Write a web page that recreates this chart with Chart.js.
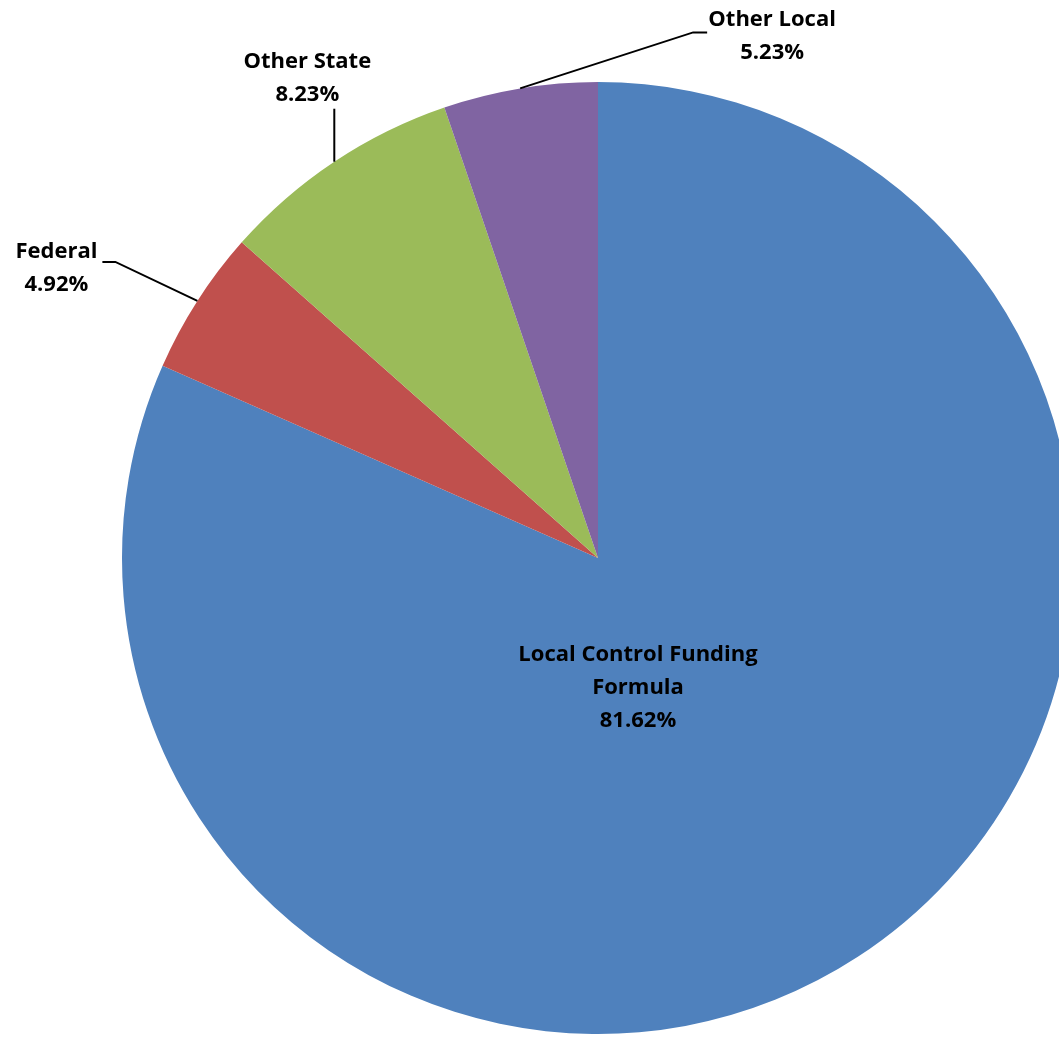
<!DOCTYPE html>
<html>
<head>
<meta charset="utf-8">
<script src="https://cdn.jsdelivr.net/npm/chart.js@4"></script>
<style>
  html, body { margin: 0; padding: 0; background: #ffffff; overflow: hidden; width: 1059px; height: 1037px; }
  #wrap { position: absolute; left: 0; top: 0; }
</style>
</head>
<body>
<div id="wrap"><canvas id="c" width="1100" height="1037"></canvas></div>
<script>
const categories = ["Local Control Funding Formula", "Federal", "Other State", "Other Local"];
const labelLines = [["Local Control Funding", "Formula"], ["Federal"], ["Other State"], ["Other Local"]];
const values = [81.62, 4.92, 8.23, 5.23];
const valueLabels = ["81.62%", "4.92%", "8.23%", "5.23%"];
const colors = ["#4F81BD", "#C0504D", "#9BBB59", "#8064A2"];

// Label layout (offsets from the slice's outer mid-point, or from centre for inside labels)
const labelLayout = [
  { inside: true, dx: 40, dy: 97 },
  { elbow: [-82, -39], end: [-95, -39], text: [-141, -49] },
  { elbow: [0, -53], end: [0, -53], text: [-27, -100] },
  { elbow: [173, -56], end: [187, -56], text: [252, -69] }
];

const FONT = "bold 22px 'Open Sans'";
const LINE_H = 33;

const labelPlugin = {
  id: 'sliceLabels',
  afterDatasetsDraw(chart) {
    const ctx = chart.ctx;
    const meta = chart.getDatasetMeta(0);
    ctx.save();
    ctx.font = FONT;
    ctx.fillStyle = "#000000";
    ctx.textAlign = "center";
    ctx.textBaseline = "middle";
    meta.data.forEach((arc, i) => {
      const p = arc.getProps(['x', 'y', 'startAngle', 'endAngle', 'outerRadius'], true);
      const mid = (p.startAngle + p.endAngle) / 2;
      const L = labelLayout[i];
      const lines = labelLines[i].concat([valueLabels[i]]);
      let tx, ty;
      if (L.inside) {
        tx = p.x + L.dx; ty = p.y + L.dy;
      } else {
        const ax = p.x + Math.cos(mid) * p.outerRadius;
        const ay = p.y + Math.sin(mid) * p.outerRadius;
        ctx.beginPath();
        ctx.lineWidth = 2;
        ctx.strokeStyle = "#000000";
        ctx.moveTo(ax, ay);
        ctx.lineTo(ax + L.elbow[0], ay + L.elbow[1]);
        ctx.lineTo(ax + L.end[0], ay + L.end[1]);
        ctx.stroke();
        tx = ax + L.text[0]; ty = ay + L.text[1];
      }
      lines.forEach((s, k) => ctx.fillText(s, tx, ty + k * LINE_H));
    });
    ctx.restore();
  }
};

new Chart(document.getElementById('c'), {
  type: 'pie',
  data: {
    labels: categories,
    datasets: [{
      data: values,
      backgroundColor: colors,
      borderWidth: 0,
      hoverOffset: 0
    }]
  },
  options: {
    responsive: false,
    animation: false,
    layout: { padding: { left: 122, top: 82, right: 26, bottom: 3 } },
    plugins: {
      legend: { display: false },
      tooltip: { enabled: false }
    }
  },
  plugins: [labelPlugin]
});
</script>
</body>
</html>
